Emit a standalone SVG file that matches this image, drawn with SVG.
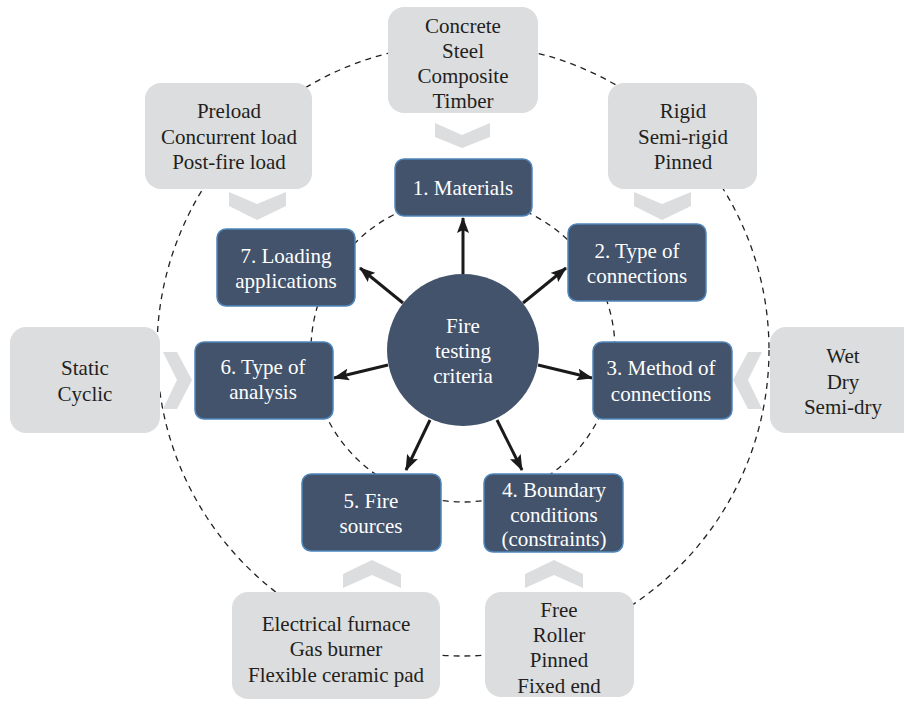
<svg xmlns="http://www.w3.org/2000/svg" width="904" height="701" viewBox="0 0 904 701">
<style>
.dash{fill:none;stroke:#222;stroke-width:1.3;stroke-dasharray:6 5}
.gbox{fill:#dcdddf}
.chev{fill:#dcdddf}
.dbox{fill:#43536b;stroke:#4f86bb;stroke-width:1.5}
text{font-family:'Liberation Serif','Times New Roman',Tinos,'DejaVu Serif',serif;font-size:21px;text-anchor:middle}
.gt{fill:#231f20}
.wt{fill:#ffffff}
.arr{stroke:#1a1a1a;stroke-width:3;fill:none;marker-end:url(#ah)}
</style>
<defs>
<marker id="ah" markerUnits="userSpaceOnUse" markerWidth="16" markerHeight="12" refX="15" refY="6" orient="auto">
<path d="M0,0 L16,6 L0,12 L3,6 Z" fill="#1a1a1a"/>
</marker>
</defs>
<rect width="904" height="701" fill="#ffffff"/>
<g id="rings">
<circle class="dash" cx="463" cy="350" r="306"/>
<circle class="dash" cx="463" cy="350" r="152"/>
</g>
<g id="chevrons">
<polygon class="chev" points="435,123 462,135 490,123 490,137 462,148 435,137"/>
<polygon class="chev" points="229,192 257,204 286,192 286,206 257,220 229,206"/>
<polygon class="chev" points="634,192 662,204 691,192 691,206 662,220 634,206"/>
<polygon class="chev" points="163,352 177,380 163,409 177,409 192,380 177,352"/>
<polygon class="chev" points="762,352 748,380 762,409 748,409 733,380 748,352"/>
<polygon class="chev" points="343,588 372,575 401,588 401,574 372,560 343,574"/>
<polygon class="chev" points="525,588 554,575 583,588 583,574 554,560 525,574"/>
</g>
<g id="connectors">
<line class="arr" x1="463" y1="274" x2="463" y2="218"/>
<line class="arr" x1="523" y1="303" x2="566" y2="268"/>
<line class="arr" x1="403" y1="303" x2="360" y2="268"/>
<line class="arr" x1="538" y1="365" x2="592" y2="378"/>
<line class="arr" x1="388" y1="365" x2="334" y2="378"/>
<line class="arr" x1="497" y1="420" x2="522" y2="470"/>
<line class="arr" x1="430" y1="420" x2="406" y2="470"/>
</g>
<g id="center">
<circle cx="463" cy="350" r="76" fill="#43536b"/>
<text class="wt" x="463" y="333">Fire</text>
<text class="wt" x="463" y="358">testing</text>
<text class="wt" x="463" y="383">criteria</text>
</g>
<g id="n1"><rect class="dbox" x="395" y="159" width="137" height="57" rx="9"/><text class="wt" x="463" y="195">1. Materials</text></g>
<g id="n2"><rect class="dbox" x="568" y="224" width="138" height="77" rx="9"/><text class="wt" x="637" y="258">2. Type of</text><text class="wt" x="637" y="283">connections</text></g>
<g id="n3"><rect class="dbox" x="593" y="342" width="139" height="77" rx="9"/><text class="wt" x="661" y="375">3. Method of</text><text class="wt" x="661" y="401">connections</text></g>
<g id="n4"><rect class="dbox" x="484" y="474" width="139" height="78" rx="9"/><text class="wt" x="554" y="497">4. Boundary</text><text class="wt" x="554" y="522">conditions</text><text class="wt" x="554" y="546">(constraints)</text></g>
<g id="n5"><rect class="dbox" x="302" y="474" width="139" height="77" rx="9"/><text class="wt" x="371" y="508">5. Fire</text><text class="wt" x="371" y="533">sources</text></g>
<g id="n6"><rect class="dbox" x="195" y="342" width="138" height="77" rx="9"/><text class="wt" x="263" y="374">6. Type of</text><text class="wt" x="263" y="399">analysis</text></g>
<g id="n7"><rect class="dbox" x="217" y="229" width="138" height="77" rx="9"/><text class="wt" x="286" y="263">7. Loading</text><text class="wt" x="286" y="288">applications</text></g>
<g id="g1"><rect class="gbox" x="388" y="7" width="150" height="106" rx="16"/><text class="gt" x="463" y="33">Concrete</text><text class="gt" x="463" y="58">Steel</text><text class="gt" x="463" y="83">Composite</text><text class="gt" x="463" y="108">Timber</text></g>
<g id="g2"><rect class="gbox" x="608" y="83" width="149" height="106" rx="16"/><text class="gt" x="683" y="118">Rigid</text><text class="gt" x="683" y="144">Semi-rigid</text><text class="gt" x="683" y="169">Pinned</text></g>
<g id="g3"><rect class="gbox" x="770" y="327" width="150" height="106" rx="16"/><text class="gt" x="843" y="363">Wet</text><text class="gt" x="843" y="389">Dry</text><text class="gt" x="843" y="414">Semi-dry</text></g>
<g id="g4"><rect class="gbox" x="485" y="592" width="149" height="105" rx="16"/><text class="gt" x="559" y="617">Free</text><text class="gt" x="559" y="642">Roller</text><text class="gt" x="559" y="667">Pinned</text><text class="gt" x="559" y="693">Fixed end</text></g>
<g id="g5"><rect class="gbox" x="232" y="592" width="208" height="107" rx="16"/><text class="gt" x="336" y="631">Electrical furnace</text><text class="gt" x="336" y="656">Gas burner</text><text class="gt" x="336" y="682">Flexible ceramic pad</text></g>
<g id="g6"><rect class="gbox" x="10" y="327" width="150" height="106" rx="16"/><text class="gt" x="85" y="375">Static</text><text class="gt" x="85" y="401">Cyclic</text></g>
<g id="g7"><rect class="gbox" x="145" y="83" width="167" height="106" rx="16"/><text class="gt" x="229" y="118">Preload</text><text class="gt" x="229" y="144">Concurrent load</text><text class="gt" x="229" y="169">Post-fire load</text></g>
</svg>
